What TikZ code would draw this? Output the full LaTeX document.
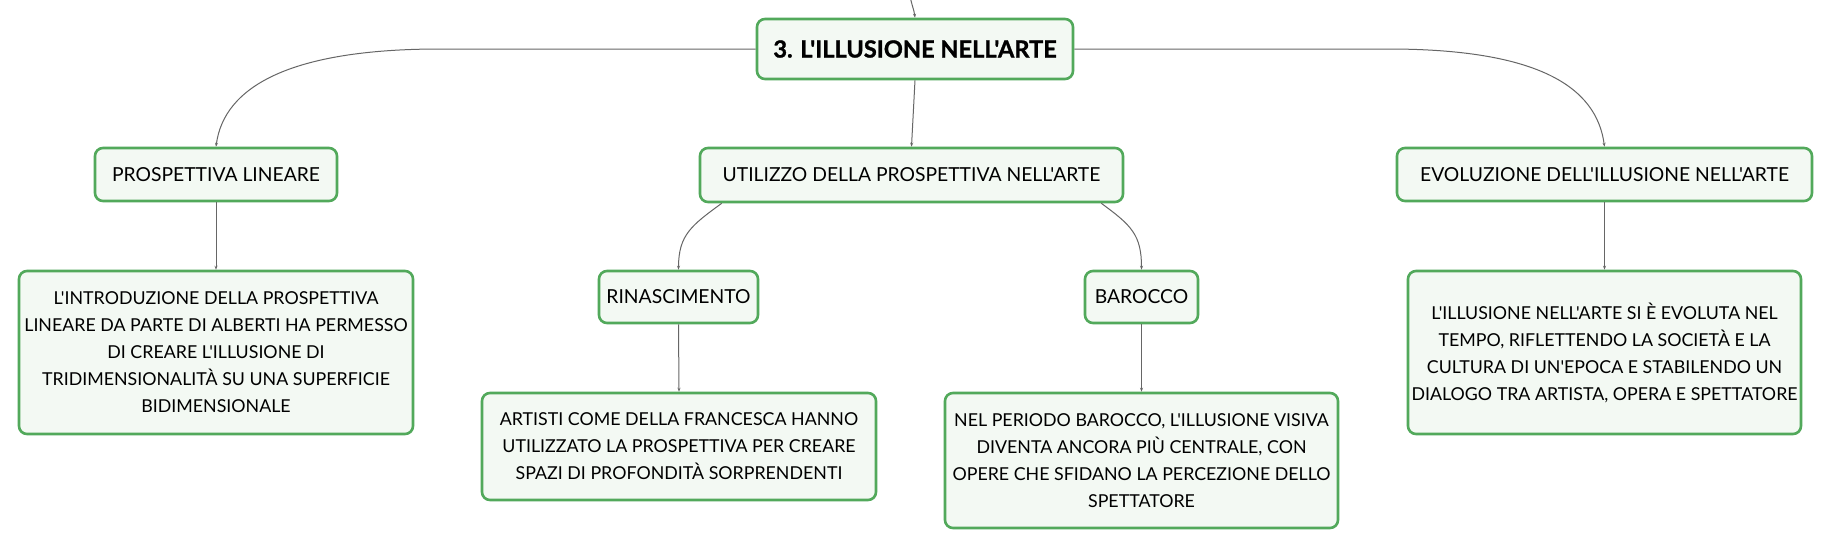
\documentclass[tikz,border=0pt]{standalone}
\usepackage{fontspec}
\setmainfont{Lato}[Ligatures=TeXOff]
\newfontfamily\titlefont{Lato}[Ligatures=TeXOff, BoldFeatures={FakeBold=1.2}]
\usetikzlibrary{arrows.meta}
\definecolor{boxgreen}{HTML}{52A95B}
\definecolor{boxfill}{HTML}{F3F9F3}
\definecolor{linegray}{HTML}{666666}
\tikzset{
  box/.style={draw=boxgreen, fill=boxfill, line width=2.6pt, rounded corners=8pt,
    align=center, inner sep=0pt, font=\fontsize{17.8}{27}\selectfont, text=black},
  headbox/.style={box, font=\fontsize{19.3}{27}\selectfont},
  titlebox/.style={box, font=\titlefont\fontsize{23.6}{27}\selectfont\bfseries},
  conn/.style={draw=linegray, line width=1pt, -{Stealth[length=4pt,width=3pt]}}
}
\begin{document}
\begin{tikzpicture}[x=1pt,y=-1pt]
\useasboundingbox[fill=white] (0,0) rectangle (1832,549);
% nodes
\node[titlebox, minimum width=316, minimum height=60] (title) at (915,49) {3. L'ILLUSIONE NELL'ARTE};
\node[headbox, minimum width=423, minimum height=54] (util) at (911.5,175) {UTILIZZO DELLA PROSPETTIVA NELL'ARTE};
\node[headbox, minimum width=242, minimum height=53] (pl) at (216,174.5) {PROSPETTIVA LINEARE};
\node[box, minimum width=394, minimum height=163] (plt) at (216,352.5) {L'INTRODUZIONE DELLA PROSPETTIVA\\LINEARE DA PARTE DI ALBERTI HA PERMESSO\\DI CREARE L'ILLUSIONE DI\\TRIDIMENSIONALITÀ SU UNA SUPERFICIE\\BIDIMENSIONALE};
\node[headbox, minimum width=159, minimum height=52] (rin) at (678.5,297) {RINASCIMENTO};
\node[box, minimum width=394, minimum height=107] (rint) at (679,446.5) {ARTISTI COME DELLA FRANCESCA HANNO\\UTILIZZATO LA PROSPETTIVA PER CREARE\\SPAZI DI PROFONDITÀ SORPRENDENTI};
\node[headbox, minimum width=113, minimum height=52] (bar) at (1141.5,297) {BAROCCO};
\node[box, minimum width=393, minimum height=135] (bart) at (1141.5,460.5) {NEL PERIODO BAROCCO, L'ILLUSIONE VISIVA\\DIVENTA ANCORA PIÙ CENTRALE, CON\\OPERE CHE SFIDANO LA PERCEZIONE DELLO\\SPETTATORE};
\node[headbox, minimum width=415, minimum height=53] (evo) at (1604.5,174.5) {EVOLUZIONE DELL'ILLUSIONE NELL'ARTE};
\node[box, minimum width=393, minimum height=163] (evot) at (1604.5,352.5) {L'ILLUSIONE NELL'ARTE SI È EVOLUTA NEL\\TEMPO, RIFLETTENDO LA SOCIETÀ E LA\\CULTURA DI UN'EPOCA E STABILENDO UN\\DIALOGO TRA ARTISTA, OPERA E SPETTATORE};
% helper coordinates
\coordinate (topin) at (910,-4);
\coordinate (lbend) at (440,49);
\coordinate (rbend) at (1388,49);
% connectors
\draw[conn] (topin) .. controls +(2,10) and +(-1,-8) .. (title.north);
\draw[conn] (title.west) -- (lbend) .. controls +(-150,0) and +(8,-60) .. (pl.north);
\draw[conn] (title.east) -- (rbend) .. controls +(150,0) and +(-8,-60) .. (evo.north);
\draw[conn] (title.south) -- (util.north);
\draw[conn] ([xshift=23]util.south west) .. controls +(-30,22) and +(0,-35) .. (rin.north);
\draw[conn] ([xshift=-23]util.south east) .. controls +(30,22) and +(0,-35) .. (bar.north);
\draw[conn] (pl.south) -- (plt.north);
\draw[conn] (rin.south) -- (rint.north);
\draw[conn] (bar.south) -- (bart.north);
\draw[conn] (evo.south) -- (evot.north);
\end{tikzpicture}
\end{document}
